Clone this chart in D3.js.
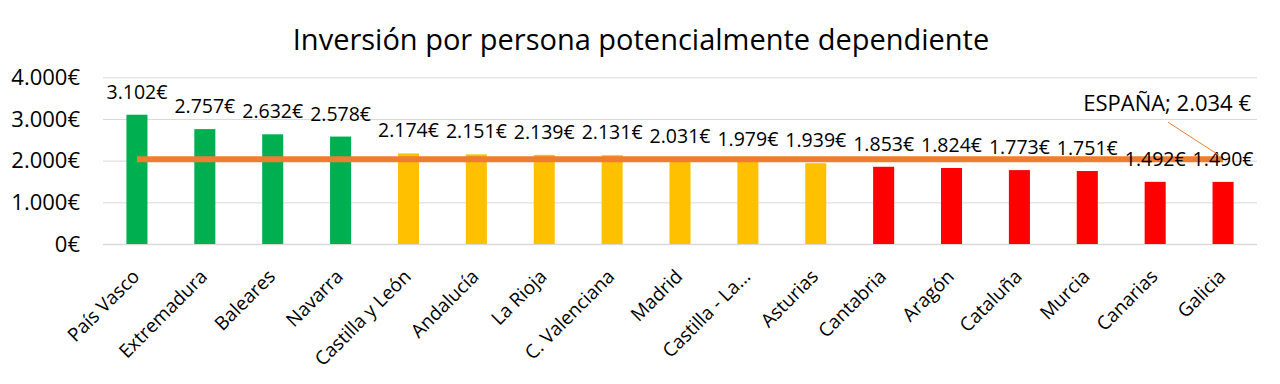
<!DOCTYPE html>
<html>
<head>
<meta charset="utf-8">
<script src="https://cdn.jsdelivr.net/npm/d3@7"></script>
<style>
  body { margin: 0; background: #fff; }
  svg { display: block; font-family: "Open Sans", sans-serif; }
</style>
</head>
<body>
<div class="vis-barchart"></div>
<script>
// regions, sorted as in the original
var regions = ['País Vasco', 'Extremadura', 'Baleares', 'Navarra', 'Castilla y León', 'Andalucía',
    'La Rioja', 'C. Valenciana', 'Madrid', 'Castilla - La...', 'Asturias', 'Cantabria',
    'Aragón', 'Cataluña', 'Murcia', 'Canarias', 'Galicia'];
var inversion = [3102, 2757, 2632, 2578, 2174, 2151, 2139, 2131, 2031, 1979, 1939, 1853,
    1824, 1773, 1751, 1492, 1490];
var grupo = ['alto', 'alto', 'alto', 'alto', 'medio', 'medio', 'medio', 'medio', 'medio', 'medio', 'medio',
    'bajo', 'bajo', 'bajo', 'bajo', 'bajo', 'bajo'];
var espana = 2034;
var yTicks = [0, 1000, 2000, 3000, 4000];

var width = 1280,
    height = 384;

var fmt = function (v) {
    // spanish thousands separator
    return d3.format(',')(v).replace(/,/g, '.') + '€';
};

var color = d3.scaleOrdinal()
    .domain(['alto', 'medio', 'bajo'])
    .range(['#00B050', '#FFC000', '#FF0000']);

var x = d3.scaleBand()
    .domain(regions)
    .range([103, 1257])
    .paddingInner(0.69)
    .paddingOuter(0.345);

var y = d3.scaleLinear()
    .domain([0, 4000])
    .range([244, 77.3]);

var svg = d3.select('.vis-barchart')
    .append('svg')
    .attr('width', width)
    .attr('height', height);

// title
svg.append('text')
    .attr('x', 641)
    .attr('y', 50)
    .attr('text-anchor', 'middle')
    .attr('font-size', 29)
    .attr('fill', '#000')
    .text('Inversión por persona potencialmente dependiente');

// grid + y labels
var yAxis = d3.axisLeft(y)
    .tickValues(yTicks)
    .tickSize(-(1257 - 103))
    .tickPadding(23)
    .tickFormat(fmt);

var gy = svg.append('g')
    .attr('transform', 'translate(103,0)')
    .call(yAxis);
gy.select('.domain').remove();
gy.selectAll('.tick line')
    .attr('stroke', '#d9d9d9')
    .attr('stroke-width', function (d) { return d === 0 ? 1.5 : 1; });
gy.selectAll('.tick text')
    .attr('font-size', 22)
    .attr('fill', '#000')
    .attr('font-family', '"Open Sans", sans-serif');

// bars
svg.selectAll('.bar')
    .data(inversion)
    .enter().append('rect')
    .attr('class', 'bar')
    .attr('x', function (d, i) { return x(regions[i]); })
    .attr('y', function (d) { return y(d); })
    .attr('width', x.bandwidth())
    .attr('height', function (d) { return y(0) - y(d); })
    .attr('fill', function (d, i) { return color(grupo[i]); });

// x labels
var gx = svg.append('g')
    .attr('transform', 'translate(0,244)')
    .call(d3.axisBottom(x).tickSize(0).tickPadding(0));
gx.select('.domain').remove();
gx.selectAll('.tick text')
    .attr('font-size', 19)
    .attr('fill', '#000')
    .attr('font-family', '"Open Sans", sans-serif')
    .attr('text-anchor', 'end')
    .attr('dy', '0.35em')
    .attr('transform', 'translate(-1,29) rotate(-45)');

// media España
var lineData = regions.map(function (r) { return [x(r) + x.bandwidth() / 2, espana]; });
svg.append('path')
    .datum(lineData)
    .attr('fill', 'none')
    .attr('stroke', '#ED7D31')
    .attr('stroke-width', 6)
    .attr('d', d3.line()
        .x(function (d) { return d[0]; })
        .y(function (d) { return y(d[1]); }));

// data labels
svg.selectAll('.val')
    .data(inversion)
    .enter().append('text')
    .attr('class', 'val')
    .attr('x', function (d, i) { return x(regions[i]) + x.bandwidth() / 2; })
    .attr('y', function (d) { return y(d) - 16; })
    .attr('text-anchor', 'middle')
    .attr('font-size', 19.5)
    .attr('fill', '#000')
    .text(fmt);

// ESPAÑA callout
var last = regions[regions.length - 1];
var lx = x(last) + x.bandwidth() / 2;
svg.append('line')
    .attr('x1', lx - 55)
    .attr('y1', y(espana) - 37)
    .attr('x2', lx - 4)
    .attr('y2', y(espana) - 4)
    .attr('stroke', '#ED7D31')
    .attr('stroke-width', 1);
svg.append('text')
    .attr('x', 1251)
    .attr('y', 111)
    .attr('text-anchor', 'end')
    .attr('font-size', 22)
    .attr('fill', '#000')
    .text('ESPAÑA; ' + d3.format(',')(espana).replace(/,/g, '.') + ' €');
</script>
</body>
</html>
